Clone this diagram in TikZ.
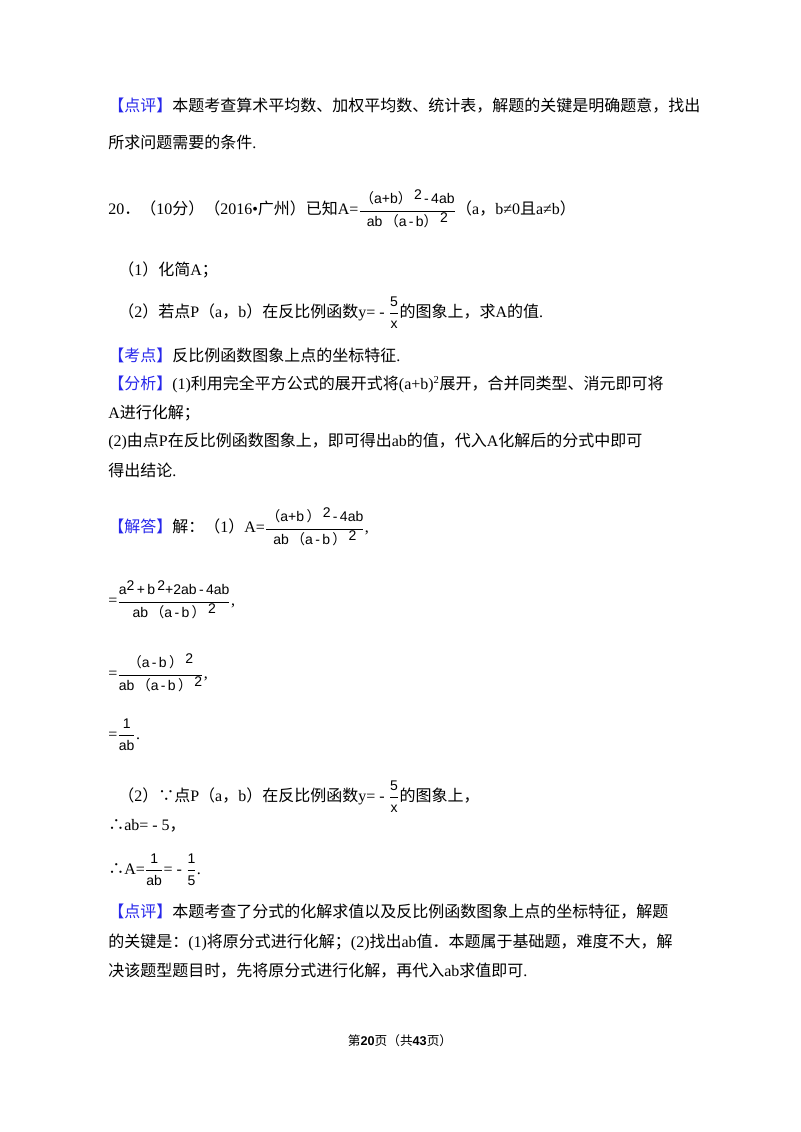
\documentclass[tikz,border=0pt]{standalone}
\usepackage{fontspec}
\setmainfont{Liberation Serif}
\newfontfamily\zhf{Noto Sans CJK SC}
\newfontfamily\fmlf{Liberation Sans}
\newcommand\zh[1]{{\zhf #1}}
\definecolor{lbl}{RGB}{40,40,235}
\newcommand\B[1]{{\color{lbl}\zhf #1}}
\newcommand\fml{\fmlf\fontsize{10.5}{12}\selectfont}
\newcommand\F[2]{$\displaystyle\frac{\hbox{\fml #1}}{\hbox{\fml #2}}$}
\newcommand\pl{\zh{（}}
\newcommand\pr{\zh{）}}
\newcommand\sq{\raisebox{0.6ex}{\fml 2}}
\begin{document}
\begin{tikzpicture}[x=0.75pt,y=-0.75pt,
  every node/.style={anchor=west,inner sep=0pt,font=\fontsize{12}{14}\selectfont}]
\useasboundingbox (0,0) rectangle (800,1132);
\fill[white] (0,0) rectangle (800,1132);
\node (l1) at (108,106) {\B{【点评】}\zh{本题考查算术平均数、加权平均数、统计表，解题的关键是明确题意，找出}};
\node (l2) at (108,142) {\zh{所求问题需要的条件}.};
\node (l3) at (108,209) {20\zh{．（}10\zh{分）（}2016•\zh{广州）已知}A=\F{\pl a+b\pr\,\sq\,-\,4ab}{ab\,\pl a\,-\,b\pr\,\sq}\zh{（}a\zh{，}b≠0\zh{且}a≠b\zh{）}};
\node (l4) at (118,270) {\zh{（}1\zh{）化简}A\zh{；}};
\node (l5) at (118,313) {\zh{（}2\zh{）若点}P\zh{（}a\zh{，}b\zh{）在反比例函数}y= - \F{5}{x}\zh{的图象上，求}A\zh{的值}.};
\node (l6) at (108,355) {\B{【考点】}\zh{反比例函数图象上点的坐标特征}.};
\node (l7) at (108,384) {\B{【分析】}(1)\zh{利用完全平方公式的展开式将}(a+b)\textsuperscript{2}\zh{展开，合并同类型、消元即可将}};
\node (l8) at (108,413) {A\zh{进行化解；}};
\node (l9) at (108,441) {(2)\zh{由点}P\zh{在反比例函数图象上，即可得出}ab\zh{的值，代入}A\zh{化解后的分式中即可}};
\node (l10) at (108,470) {\zh{得出结论}.};
\node (l11) at (108,527) {\B{【解答】}\zh{解：（}1\zh{）}A=\F{\pl a+b\,\pr\,\sq\,-\,4ab}{ab\,\pl a\,-\,b\,\pr\,\sq},};
\node (l12) at (108,600) {=\F{a\sq\,+\,b\,\sq+2ab\,-\,4ab}{ab\,\pl a\,-\,b\,\pr\,\sq},};
\node (l13) at (108,673) {=\F{\pl a\,-\,b\,\pr\,\sq}{ab\,\pl a\,-\,b\,\pr\,\sq},};
\node (l14) at (108,735) {=\F{1}{ab}.};
\node (l15) at (118,797) {\zh{（}2\zh{）∵点}P\zh{（}a\zh{，}b\zh{）在反比例函数}y= - \F{5}{x}\zh{的图象上，}};
\node (l16) at (108,826) {\zh{∴}ab= - 5\zh{，}};
\node (l17) at (108,870) {\zh{∴}A=\F{1}{ab}= - \F{1}{5}.};
\node (l18) at (108,912) {\B{【点评】}\zh{本题考查了分式的化解求值以及反比例函数图象上点的坐标特征，解题}};
\node (l19) at (108,942) {\zh{的关键是：}(1)\zh{将原分式进行化解；}(2)\zh{找出}ab\zh{值．本题属于基础题，难度不大，解}};
\node (l20) at (108,971) {\zh{决该题型题目时，先将原分式进行化解，再代入}ab\zh{求值即可}.};
\node[anchor=center,font=\fontsize{9.5}{11}\selectfont] (ft) at (400,1041) {\zh{第}\textbf{\fmlf 20}\zh{页（共}\textbf{\fmlf 43}\zh{页）}};
\end{tikzpicture}
\end{document}
